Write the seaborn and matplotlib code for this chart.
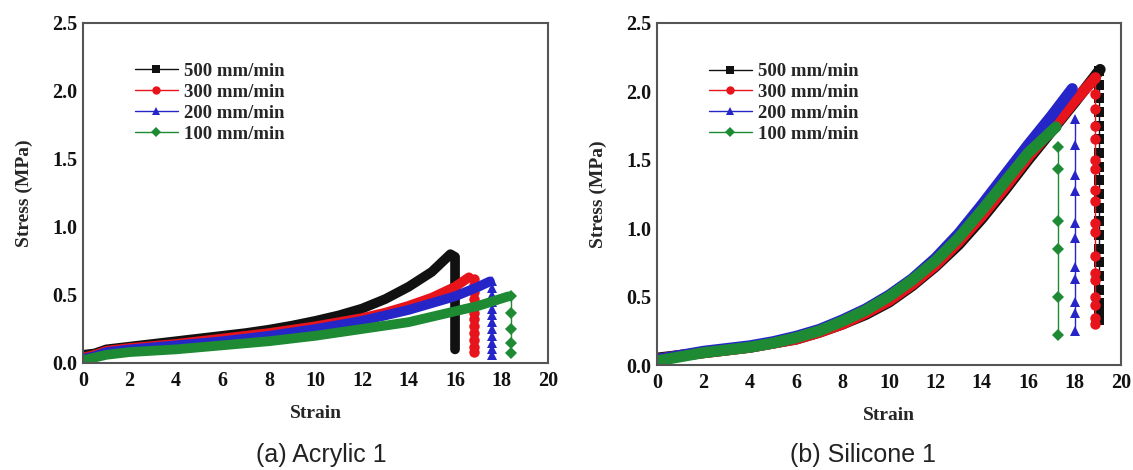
import matplotlib
matplotlib.use("Agg")
import matplotlib.pyplot as plt
from matplotlib.lines import Line2D
from matplotlib.ticker import MultipleLocator, FormatStrFormatter
import seaborn as sns

# rates and styling per series
rates = ["500 mm/min", "300 mm/min", "200 mm/min", "100 mm/min"]
colors = ["#111111", "#e8141c", "#2626c8", "#1e8a34"]
markers = ["s", "o", "^", "D"]
drop_sizes = [7.5, 7.5, 7, 6]

# (a) Acrylic 1 - loading curves
acr_strain = {
    "500 mm/min": [0, 0.5, 1, 2, 3, 4, 5, 6, 7, 8, 9, 10, 11, 12, 13, 14, 15, 15.8, 16.0, 16.0],
    "300 mm/min": [0, 0.5, 1, 2, 3, 4, 5, 6, 7, 8, 9, 10, 11, 12, 13, 14, 15, 16, 16.6],
    "200 mm/min": [0, 0.5, 1, 2, 3, 4, 5, 6, 7, 8, 9, 10, 11, 12, 13, 14, 15, 16, 17, 17.5],
    "100 mm/min": [0, 0.5, 1, 2, 3, 4, 5, 6, 7, 8, 9, 10, 11, 12, 13, 14, 15, 16, 17, 18.3],
}
acr_stress = {
    "500 mm/min": [0.06, 0.07, 0.10, 0.12, 0.14, 0.16, 0.18, 0.20, 0.22, 0.245, 0.275, 0.31, 0.35,
                   0.40, 0.47, 0.56, 0.67, 0.80, 0.78, 0.10],
    "300 mm/min": [0.04, 0.06, 0.09, 0.11, 0.125, 0.14, 0.16, 0.18, 0.20, 0.22, 0.245, 0.27, 0.30,
                   0.33, 0.37, 0.42, 0.48, 0.56, 0.63],
    "200 mm/min": [0.03, 0.05, 0.08, 0.10, 0.115, 0.13, 0.145, 0.16, 0.18, 0.20, 0.225, 0.25, 0.28,
                   0.31, 0.35, 0.39, 0.44, 0.49, 0.56, 0.60],
    "100 mm/min": [0.02, 0.04, 0.06, 0.08, 0.09, 0.10, 0.115, 0.13, 0.145, 0.16, 0.18, 0.20, 0.225,
                   0.25, 0.275, 0.30, 0.34, 0.38, 0.42, 0.49],
}
# (a) Acrylic 1 - fracture drops
acr_drop_strain = {"500 mm/min": 16.0, "300 mm/min": 16.8, "200 mm/min": 17.6, "100 mm/min": 18.4}
acr_drop_stress = {
    "500 mm/min": [],
    "300 mm/min": [0.62, 0.57, 0.52, 0.47, 0.42, 0.37, 0.32, 0.27, 0.22, 0.17, 0.12, 0.08],
    "200 mm/min": [0.60, 0.55, 0.50, 0.45, 0.40, 0.35, 0.30, 0.25, 0.20, 0.15, 0.10, 0.06],
    "100 mm/min": [0.49, 0.37, 0.25, 0.15, 0.07],
}

# (b) Silicone 1 - loading curves
sil_strain = {
    "500 mm/min": [0, 1, 2, 3, 4, 5, 6, 7, 8, 9, 10, 11, 12, 13, 14, 15, 16, 17, 18, 19.1],
    "300 mm/min": [0, 1, 2, 3, 4, 5, 6, 7, 8, 9, 10, 11, 12, 13, 14, 15, 16, 17, 18, 18.9],
    "200 mm/min": [0, 1, 2, 3, 4, 5, 6, 7, 8, 9, 10, 11, 12, 13, 14, 15, 16, 17, 17.9],
    "100 mm/min": [0, 1, 2, 3, 4, 5, 6, 7, 8, 9, 10, 11, 12, 13, 14, 15, 16, 17.2],
}
sil_stress = {
    "500 mm/min": [0.05, 0.07, 0.09, 0.11, 0.13, 0.16, 0.19, 0.24, 0.30, 0.37, 0.46, 0.58, 0.72,
                   0.88, 1.07, 1.28, 1.50, 1.71, 1.92, 2.16],
    "300 mm/min": [0.04, 0.07, 0.09, 0.11, 0.13, 0.16, 0.19, 0.24, 0.30, 0.38, 0.47, 0.59, 0.73,
                   0.90, 1.09, 1.30, 1.52, 1.72, 1.93, 2.10],
    "200 mm/min": [0.04, 0.07, 0.10, 0.12, 0.14, 0.17, 0.21, 0.26, 0.33, 0.41, 0.51, 0.63, 0.78,
                   0.96, 1.17, 1.39, 1.61, 1.82, 2.02],
    "100 mm/min": [0.03, 0.06, 0.09, 0.11, 0.13, 0.16, 0.20, 0.25, 0.32, 0.40, 0.50, 0.62, 0.76,
                   0.93, 1.13, 1.34, 1.55, 1.74],
}
# (b) Silicone 1 - fracture drops
sil_drop_strain = {"500 mm/min": 19.05, "300 mm/min": 18.9, "200 mm/min": 18.0, "100 mm/min": 17.3}
sil_drop_stress = {
    "500 mm/min": [2.15, 2.05, 1.95, 1.85, 1.75, 1.65, 1.55, 1.45, 1.35, 1.25, 1.15, 1.05, 0.95,
                   0.85, 0.75, 0.65, 0.55, 0.45, 0.38, 0.33],
    "300 mm/min": [2.10, 1.98, 1.87, 1.75, 1.65, 1.50, 1.43, 1.28, 1.20, 1.04, 0.97, 0.80, 0.67,
                   0.62, 0.50, 0.44, 0.34, 0.30],
    "200 mm/min": [1.80, 1.61, 1.39, 1.27, 1.04, 0.93, 0.72, 0.63, 0.46, 0.38, 0.25],
    "100 mm/min": [1.59, 1.43, 1.05, 0.85, 0.50, 0.22],
}

sns.set_style("white")
plt.rcParams["font.family"] = ["Liberation Serif", "DejaVu Serif"]
plt.rcParams["font.weight"] = "bold"

fig = plt.figure(figsize=(11.33, 4.7), dpi=100)
ax_a = fig.add_axes([0.0733, 0.2277, 0.4104, 0.7234])
ax_b = fig.add_axes([0.5799, 0.2234, 0.4095, 0.7277])


def draw_panel(ax, strain, stress, drop_x, drop_y, curve_lw):
    for rate, c, m, ms in zip(rates, colors, markers, drop_sizes):
        ys = drop_y[rate]
        if ys:
            xs = [drop_x[rate]] * len(ys)
            sns.lineplot(x=xs, y=ys, ax=ax, color=c, lw=1.0, sort=False, estimator=None,
                         marker=m, markersize=ms, markeredgewidth=0)
        sns.lineplot(x=strain[rate], y=stress[rate], ax=ax, color=c, lw=curve_lw,
                     sort=False, estimator=None, solid_capstyle="round", solid_joinstyle="round")
    ax.set_xlim(0, 20)
    ax.set_ylim(0, 2.5)
    ax.xaxis.set_major_locator(MultipleLocator(2))
    ax.xaxis.set_minor_locator(MultipleLocator(1))
    ax.yaxis.set_major_locator(MultipleLocator(0.5))
    ax.yaxis.set_minor_locator(MultipleLocator(0.25))
    ax.yaxis.set_major_formatter(FormatStrFormatter("%.1f"))
    ax.tick_params(which="both", direction="in", colors="#555555", labelcolor="#111111",
                   labelsize=14.5, top=False, right=False)
    ax.tick_params(which="major", length=5, width=1.2)
    ax.tick_params(which="minor", length=3, width=1.0)
    ax.tick_params(axis="x", pad=6)
    ax.tick_params(axis="y", pad=4)
    for lab in ax.get_xticklabels() + ax.get_yticklabels():
        lab.set_fontweight("bold")
    for sp in ax.spines.values():
        sp.set_color("#555555")
        sp.set_linewidth(1.5)
    ax.set_xlabel("Strain", fontsize=14, fontweight="bold", labelpad=10)
    ax.set_ylabel("Stress (MPa)", fontsize=14, fontweight="bold", labelpad=14)
    handles = [Line2D([0], [0], color=c, lw=1.0, marker=m, markersize=6 if m != "D" else 5,
                      markeredgewidth=0) for c, m in zip(colors, markers)]
    ax.legend(handles, rates, loc="upper left", bbox_to_anchor=(0.095, 0.905),
              frameon=False, handlelength=2.3, handletextpad=0.35, labelspacing=0.2,
              borderaxespad=0, prop={"family": "Liberation Serif", "weight": "bold", "size": 13.5})


draw_panel(ax_a, acr_strain, acr_stress, acr_drop_strain, acr_drop_stress, 7)
draw_panel(ax_b, sil_strain, sil_stress, sil_drop_strain, sil_drop_stress, 8)

cap_font = ["Liberation Sans Narrow", "Liberation Sans", "DejaVu Sans"]
fig.text(0.284, 0.032, "(a) Acrylic 1", ha="center", va="center", fontsize=18,
         fontweight="normal", family=cap_font, color="#222222")
fig.text(0.762, 0.032, "(b) Silicone 1", ha="center", va="center", fontsize=18,
         fontweight="normal", family=cap_font, color="#222222")

fig.savefig("out.png", dpi=100)
